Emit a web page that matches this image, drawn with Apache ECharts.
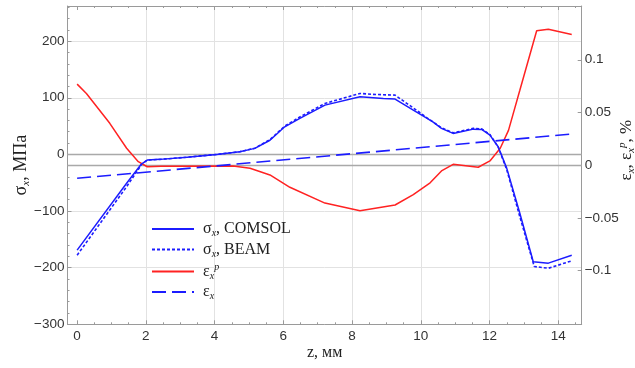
<!DOCTYPE html>
<html><head><meta charset="utf-8">
<script src="https://cdn.jsdelivr.net/npm/echarts@6/dist/echarts.min.js"></script>
<style>html,body{margin:0;padding:0;background:#fff}#c{width:635px;height:368px}</style>
</head><body><div id="c"></div>
<script>
// ---- data (z in mm) ----
const sigmaComsol = [[0,-169],[1.44,-51],[1.73,-28],[1.87,-17],[2.04,-10],[2.41,-8.8],[3.2,-5],[4.06,0],[4.73,4.6],[5.17,10.6],[5.61,25],[6.04,48.7],[6.48,63.5],[7.21,87],[8.23,101.6],[8.91,98.8],[9.25,97.6],[9.78,78],[10.17,64],[10.36,57],[10.6,46],[10.94,37],[11.53,44.6],[11.77,44],[12.01,34],[12.25,13.4],[12.5,-24.7],[12.88,-104],[13.27,-189.5],[13.71,-192],[14.39,-178]];
const sigmaBeam = [[0,-178],[1.44,-57],[1.73,-31],[1.87,-18],[2.04,-10],[2.41,-8.8],[3.2,-5],[4.06,0],[4.73,4.6],[5.17,11],[5.61,26],[6.04,50],[6.48,66],[7.21,90],[8.23,107.6],[8.6,106],[9.25,104.6],[9.78,82],[10.17,65],[10.6,47],[10.94,38],[11.53,46],[11.77,45],[12.01,35],[12.25,13],[12.5,-27],[12.88,-110],[13.3,-198],[13.71,-201],[14.39,-188]];
const epsPlastic = [[0,0.0769],[0.27,0.068],[0.95,0.0397],[1.44,0.016],[1.78,0.0033],[2.04,-0.0015],[2.44,-0.001],[4.54,-0.0008],[5.03,-0.003],[5.61,-0.0093],[6.19,-0.021],[7.21,-0.036],[8.23,-0.0432],[9.25,-0.0378],[9.78,-0.028],[10.27,-0.0168],[10.6,-0.0055],[10.94,0.0008],[11.67,-0.002],[12.01,0.004],[12.31,0.016],[12.55,0.033],[12.88,0.071],[13.37,0.1275],[13.71,0.129],[14.39,0.124]];
const epsTotal = [[0,-0.0125],[14.39,0.0295]];

const xMajorTicks = [0,2,4,6,8,10,12,14];
const xMinorTicks = [0.5,1,1.5,2.5,3,3.5,4.5,5,5.5,6.5,7,7.5,8.5,9,9.5,10.5,11,11.5,12.5,13,13.5,14.5];
const yRightTicks = [-0.1,-0.05,0,0.05,0.1];
const seriesNames = ['sComsol','sBeam','epsP','eps'];
const legendLabels = {
  sComsol: '{g|σ}{sub|x}{g|, COMSOL}',
  sBeam: '{g|σ}{sub|x}{g|, BEAM}',
  epsP: '{g|ε}{sub|x}{sup|p}',
  eps: '{g|ε}{sub|x}'
};

const BLUE = '#1c1cff', RED = '#ff2222', FRAME = '#9a9a9a', GRID = '#e2e2e2', LBL = '#333';
const minus = v => String(v).replace('-', '\u2212');

const chart = echarts.init(document.getElementById('c'), null, {renderer: 'canvas'});
const xBase = {type: 'value', min: -0.28, max: 14.68, gridIndex: 0};
const serifRich = (fs) => ({
  g: {fontFamily: 'Liberation Serif', fontSize: fs, color: '#222', lineHeight: fs + 3},
  sub: {fontFamily: 'Liberation Serif', fontSize: Math.round(fs * 0.62), fontStyle: 'italic', color: '#222', verticalAlign: 'bottom', lineHeight: Math.round(fs * 0.62)},
  sup: {fontFamily: 'Liberation Serif', fontSize: Math.round(fs * 0.62), fontStyle: 'italic', color: '#222', verticalAlign: 'top', lineHeight: Math.round(fs * 0.62)}
});

chart.setOption({
  animation: false,
  grid: {left: 67.5, right: 53.3, top: 6, bottom: 43.7, containLabel: false, outerBoundsMode: 'none'},
  xAxis: [
    Object.assign({}, xBase, {
      position: 'bottom',
      name: '{g|z, мм}', nameLocation: 'middle', nameGap: 19, nameMoveOverlap: false,
      nameTextStyle: {rich: serifRich(16)},
      axisLine: {show: true, onZero: false, lineStyle: {color: FRAME, width: 1}},
      axisTick: {show: true, inside: true, length: 4, customValues: xMajorTicks, lineStyle: {color: FRAME}},
      axisLabel: {show: true, customValues: xMajorTicks, margin: 5, color: LBL, fontFamily: 'Liberation Sans', fontSize: 13.5, formatter: minus},
      splitLine: {show: true, lineStyle: {color: ['rgba(0,0,0,0)', GRID, GRID, GRID, GRID, GRID, GRID, GRID], width: 1}}
    }),
    Object.assign({}, xBase, {
      position: 'bottom',
      axisLine: {show: false, onZero: false},
      axisTick: {show: true, inside: true, length: 2, customValues: xMinorTicks, lineStyle: {color: FRAME}},
      axisLabel: {show: false}, splitLine: {show: false}
    }),
    Object.assign({}, xBase, {
      position: 'top',
      axisLine: {show: true, onZero: false, lineStyle: {color: FRAME, width: 1}},
      axisTick: {show: true, inside: true, length: 4, customValues: xMajorTicks, lineStyle: {color: FRAME}},
      axisLabel: {show: false}, splitLine: {show: false}
    }),
    Object.assign({}, xBase, {
      position: 'top',
      axisLine: {show: false, onZero: false},
      axisTick: {show: true, inside: true, length: 2, customValues: xMinorTicks, lineStyle: {color: FRAME}},
      axisLabel: {show: false}, splitLine: {show: false}
    })
  ],
  yAxis: [
    {
      type: 'value', position: 'left', min: -300, max: 262, interval: 100,
      name: '{g|σ}{sub|x}{g|, МПа}', nameLocation: 'middle', nameGap: 36, nameRotate: 90, nameMoveOverlap: false,
      nameTextStyle: {rich: serifRich(18)},
      axisLine: {show: true, onZero: false, lineStyle: {color: FRAME, width: 1}},
      axisTick: {show: true, inside: true, length: 4, lineStyle: {color: FRAME}},
      minorTick: {show: true, splitNumber: 5, length: 2, lineStyle: {color: FRAME}},
      axisLabel: {show: true, showMaxLabel: false, margin: 3, color: LBL, fontFamily: 'Liberation Sans', fontSize: 13.5, formatter: minus},
      splitLine: {show: true, lineStyle: {color: GRID, width: 1}}
    },
    {
      type: 'value', position: 'right', min: -0.151, max: 0.151,
      name: '{g|ε}{sub|x}{g|, ε}{sub|x}{sup|p}{g|, %}', nameLocation: 'middle', nameGap: 35, nameRotate: 90, nameMoveOverlap: false,
      nameTextStyle: {rich: serifRich(17), padding: [0, 0, 0, 30]},
      axisLine: {show: true, onZero: false, lineStyle: {color: FRAME, width: 1}},
      axisTick: {show: true, inside: true, length: 4, customValues: yRightTicks, lineStyle: {color: FRAME}},
      axisLabel: {show: true, customValues: yRightTicks, margin: 3, color: LBL, fontFamily: 'Liberation Sans', fontSize: 13.5,
        formatter: v => minus(+Number(v).toFixed(3))},
      splitLine: {show: false}
    }
  ],
  legend: {
    show: true, orient: 'vertical', left: 151, top: 221, padding: 0,
    itemWidth: 42, itemHeight: 12, itemGap: 3,
    data: seriesNames,
    itemStyle: {opacity: 0},
    formatter: n => '{pad|}' + legendLabels[n],
    textStyle: {rich: Object.assign({pad: {width: 4}}, serifRich(16))},
    selectedMode: false
  },
  series: [
    {name: 'sBeam', type: 'line', xAxisIndex: 0, yAxisIndex: 0, data: sigmaBeam, symbol: 'none', z: 3,
      lineStyle: {color: BLUE, width: 1.6, type: [3, 2]}, itemStyle: {color: BLUE}},
    {name: 'sComsol', type: 'line', xAxisIndex: 0, yAxisIndex: 0, data: sigmaComsol, symbol: 'none', z: 4,
      lineStyle: {color: BLUE, width: 1.5, type: 'solid'}, itemStyle: {color: BLUE},
      markLine: {silent: true, symbol: 'none', label: {show: false}, z: 1,
        lineStyle: {color: '#a9a9a9', width: 1.3, type: 'solid'}, data: [{yAxis: 0}]}},
    {name: 'epsP', type: 'line', xAxisIndex: 0, yAxisIndex: 1, data: epsPlastic, symbol: 'none', z: 3,
      lineStyle: {color: RED, width: 1.5, type: 'solid'}, itemStyle: {color: RED},
      markLine: {silent: true, symbol: 'none', label: {show: false}, z: 1,
        lineStyle: {color: '#a9a9a9', width: 1.3, type: 'solid'}, data: [{yAxis: 0}]}},
    {name: 'eps', type: 'line', xAxisIndex: 0, yAxisIndex: 1, data: epsTotal, symbol: 'none', z: 3,
      lineStyle: {color: BLUE, width: 1.6, type: [14, 6]}, itemStyle: {color: BLUE}}
  ]
});
</script>
</body></html>
